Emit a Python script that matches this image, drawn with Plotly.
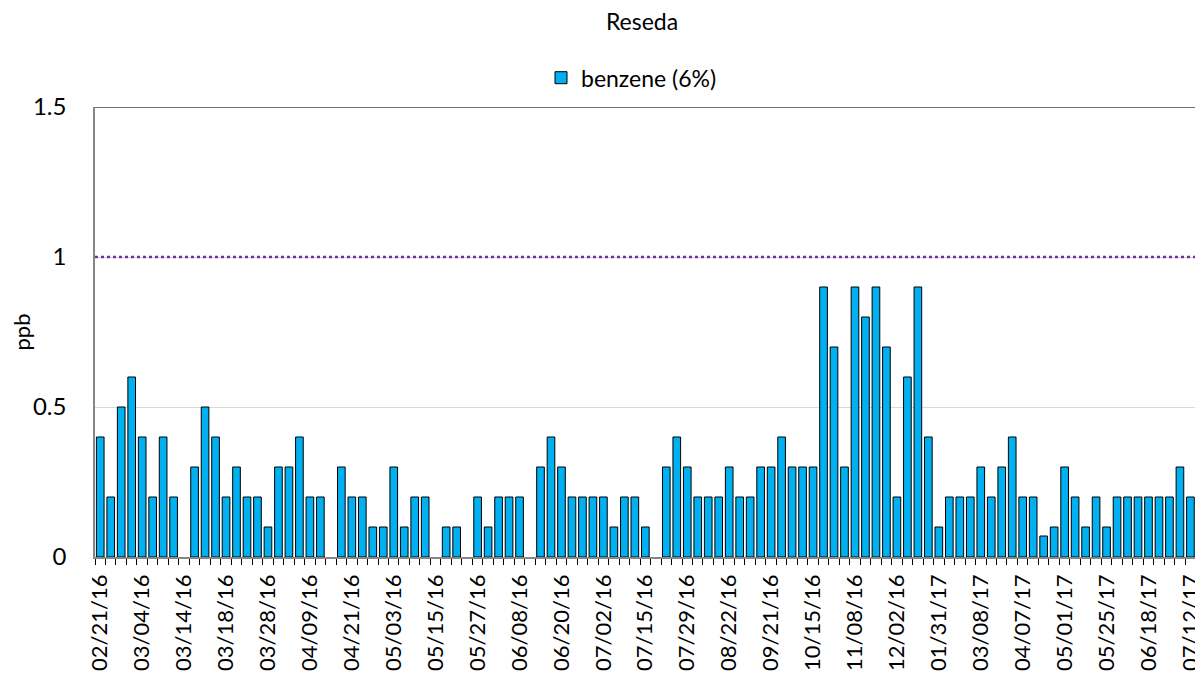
import plotly.graph_objects as go

title_text = "Reseda"
series_name = "benzene (6%)"
y_title = "ppb"
threshold = 1.0

benzene = [
    0.4, 0.2, 0.5, 0.6, 0.4, 0.2, 0.4, 0.2, None, 0.3,
    0.5, 0.4, 0.2, 0.3, 0.2, 0.2, 0.1, 0.3, 0.3, 0.4,
    0.2, 0.2, None, 0.3, 0.2, 0.2, 0.1, 0.1, 0.3, 0.1,
    0.2, 0.2, None, 0.1, 0.1, None, 0.2, 0.1, 0.2, 0.2,
    0.2, None, 0.3, 0.4, 0.3, 0.2, 0.2, 0.2, 0.2, 0.1,
    0.2, 0.2, 0.1, None, 0.3, 0.4, 0.3, 0.2, 0.2, 0.2,
    0.3, 0.2, 0.2, 0.3, 0.3, 0.4, 0.3, 0.3, 0.3, 0.9,
    0.7, 0.3, 0.9, 0.8, 0.9, 0.7, 0.2, 0.6, 0.9, 0.4,
    0.1, 0.2, 0.2, 0.2, 0.3, 0.2, 0.3, 0.4, 0.2, 0.2,
    0.07, 0.1, 0.3, 0.2, 0.1, 0.2, 0.1, 0.2, 0.2, 0.2,
    0.2, 0.2, 0.2, 0.3, 0.2, 0.2,
]

tick_labels = [
    "02/21/16", "03/04/16", "03/14/16", "03/18/16", "03/28/16", "04/09/16",
    "04/21/16", "05/03/16", "05/15/16", "05/27/16", "06/08/16", "06/20/16",
    "07/02/16", "07/15/16", "07/29/16", "08/22/16", "09/21/16", "10/15/16",
    "11/08/16", "12/02/16", "01/31/17", "03/08/17", "04/07/17", "05/01/17",
    "05/25/17", "06/18/17", "07/12/17",
]
label_every = 4

x_pos = list(range(len(benzene)))
tick_pos = [i * label_every for i in range(len(tick_labels))]

FONT = "Lato"

# page body has an 8px margin: the figure sits at (8, 8) in the window
W, H = 1195, 666
L, T, B = 87, 99, 117
PW = W - L

fig = go.Figure()
fig.add_trace(go.Bar(
    x=x_pos, y=benzene, name=series_name,
    marker=dict(color="#00B0F0", line=dict(color="#000000", width=1)),
    showlegend=True,
))

fig.add_shape(type="line", xref="paper", yref="y", x0=0, x1=1, y0=threshold, y1=threshold,
              line=dict(color="#7030A0", width=2.5, dash="dot"), layer="above")
fig.add_shape(type="line", xref="paper", yref="y", x0=0, x1=1, y0=1.5, y1=1.5,
              line=dict(color="#404040", width=1.5), layer="above")

fig.update_layout(
    width=W, height=H,
    margin=dict(l=L, r=0, t=T, b=B, autoexpand=False),
    paper_bgcolor="white", plot_bgcolor="white",
    font=dict(family=FONT, color="#000000", size=22),
    bargap=0.27,
    title=dict(text=title_text, x=(642 - 95) / PW, xref="paper", xanchor="center",
               y=1 - 14 / H, yanchor="middle", font=dict(size=23, family=FONT)),
    legend=dict(orientation="h", x=(541 - 95) / PW, xanchor="left", y=1.065, yanchor="middle",
                font=dict(size=23, family=FONT), bgcolor="rgba(0,0,0,0)"),
    xaxis=dict(
        range=[-0.5, 105.2], tickmode="array", tickvals=tick_pos, ticktext=tick_labels,
        tickangle=-90, ticks="", ticklabelstandoff=7, showgrid=False, automargin=False,
        ticklabeloverflow="allow",
        showline=True, linecolor="#868686", linewidth=1.5,
        minor=dict(ticks="outside", ticklen=6, tickcolor="#000000", tickwidth=1,
                   tick0=-0.5, dtick=1, showgrid=False),
        tickfont=dict(size=22, family=FONT), zeroline=False,
    ),
    yaxis=dict(
        range=[0, 1.5], tickmode="array", tickvals=[0, 0.5, 1, 1.5], ticktext=["0", "0.5", "1", "1.5"],
        showgrid=True, gridcolor="#D9D9D9", gridwidth=1, automargin=False,
        showline=True, linecolor="#868686", linewidth=1.5, zeroline=False,
        ticks="", ticklabelstandoff=22, tickfont=dict(size=24, family=FONT),
        title=dict(text=y_title, standoff=24, font=dict(size=22, family=FONT)),
    ),
)

fig.write_html("out.html")
